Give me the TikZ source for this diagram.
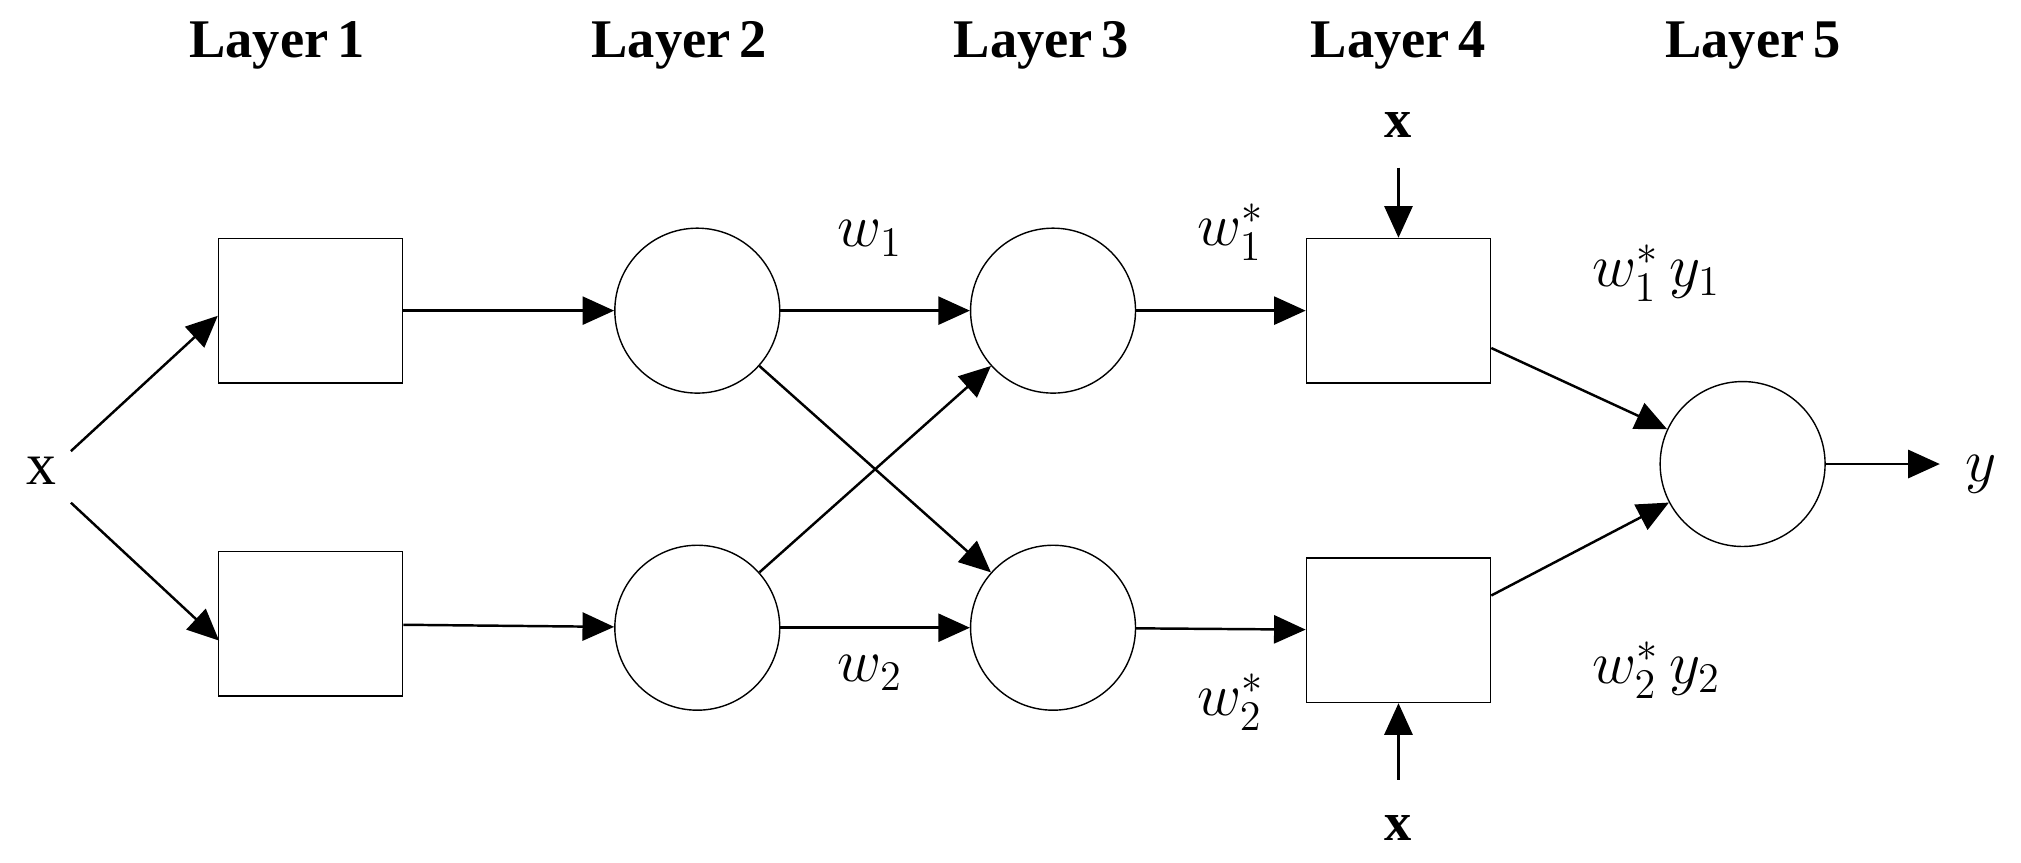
\documentclass[tikz,border=0pt]{standalone}
\usepackage{fontspec}
\setmainfont{Liberation Serif}
\usetikzlibrary{arrows.meta}
\begin{document}
\begin{tikzpicture}[x=0.01289cm,y=-0.01289cm,
  box/.style={draw,minimum width=1.843cm,minimum height=1.444cm,inner sep=0pt},
  cir/.style={draw,circle,minimum size=1.65cm,inner sep=0pt},
  arr/.style={-{Triangle[length=9pt,width=8pt]},line width=0.7pt},
  lay/.style={font=\bfseries\fontsize{15.5}{18}\selectfont},
  lbl/.style={font=\fontsize{17}{20}\selectfont}]
\useasboundingbox (0,0) rectangle (1568,669);
\foreach \n/\x in {1/215,2/527,3/808,4/1085,5/1360}
  \node[lay] (L\n) at (\x,35) {Layer\,\n};
\node[box] (a1) at (241,241) {};
\node[box] (a2) at (241,484) {};
\node[cir] (b1) at (541,241) {};
\node[cir] (b2) at (541,487) {};
\node[cir] (c1) at (817,241) {};
\node[cir] (c2) at (817,487) {};
\node[box] (d1) at (1085,241) {};
\node[box] (d2) at (1085,489) {};
\node[cir] (e) at (1352,360) {};
\node[lbl] (x) at (32,365) {x};
\node[lay] (xt) at (1085,97) {x};
\node[lay] (xb) at (1085,642) {x};
\node[lbl] (y) at (1537,368) {$y$};
\coordinate (xo1) at (55,350); \coordinate (xo2) at (55,390);
\coordinate (xt1) at (1085,130); \coordinate (xb1) at (1085,605);
\coordinate (ye) at (1505,360);
\draw[arr] (xo1) -- (a1.west|-0,245) ;
\draw[arr] (xo2) -- (170,497);
\draw[arr] (a1) -- (b1);
\draw[arr] (a2) -- (b2);
\draw[arr] (b1) -- (c1);
\draw[arr] (b2) -- (c2);
\draw[arr] (b1) -- (c2);
\draw[arr] (b2) -- (c1);
\draw[arr] (c1) -- (d1);
\draw[arr] (c2) -- (d2);
\draw[arr] (d1.east|-0,270) -- (e);
\draw[arr] (d2.east|-0,462) -- (e);
\draw[arr] (e) -- (ye);
\draw[arr] (xt1) -- (d1.north);
\draw[arr] (xb1) -- (d2.south);
\node[lbl] (w1) at (675,185) {$w_1$};
\node[lbl] (w2) at (675,522) {$w_2$};
\node[lbl] (w1s) at (955,180) {$w_1^*$};
\node[lbl] (w2s) at (955,545) {$w_2^*$};
\node[lbl] (wy1) at (1285,212) {$w_1^*\,y_1$};
\node[lbl] (wy2) at (1285,520) {$w_2^*\,y_2$};
\end{tikzpicture}
\end{document}
